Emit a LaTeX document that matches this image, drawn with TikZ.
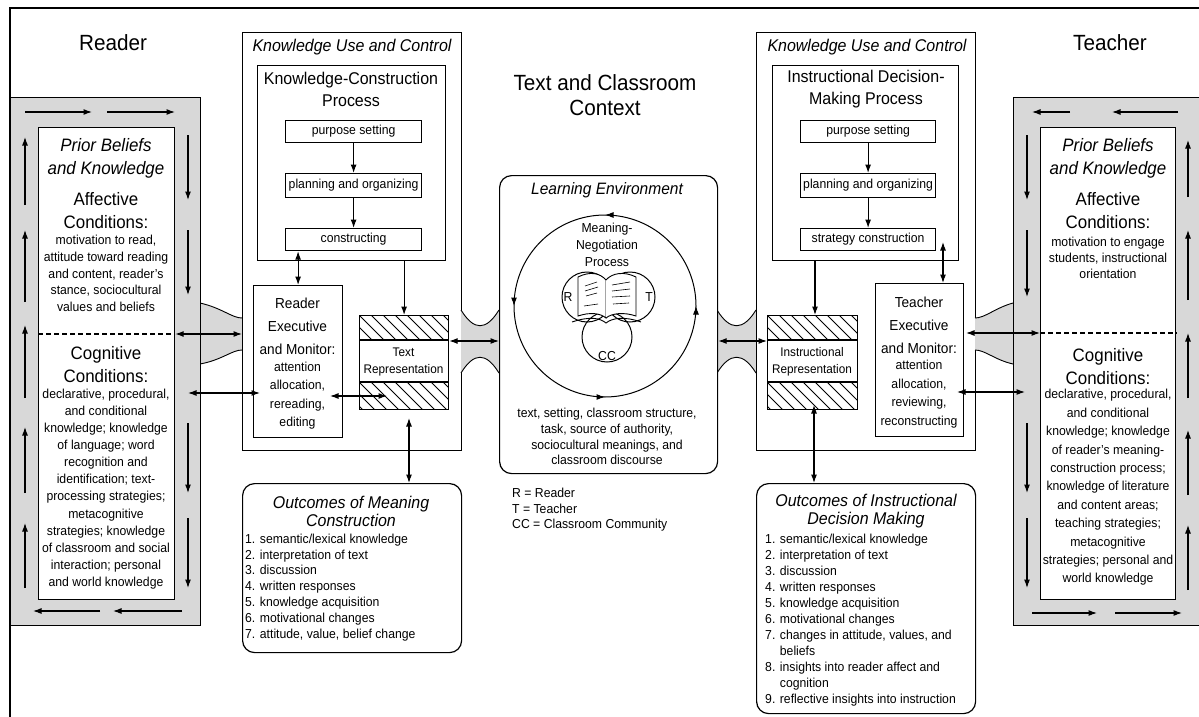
\documentclass[tikz,border=0pt]{standalone}
\usepackage{fontspec}
\setmainfont{Liberation Sans}[FakeStretch=0.94]
\usetikzlibrary{arrows.meta,decorations.markings}
\definecolor{gfill}{RGB}{216,216,216}
\newcommand\hatchbox[4]{%
  \begin{scope}
    \clip (#1,#2) rectangle (#3,#4);
    \foreach \d in {-36,-24,...,96} \draw[line width=0.9pt] ({#1+\d},#2) -- ++(40,40);
  \end{scope}}
\tikzset{
  box/.style={draw, line width=1.2pt, inner sep=0pt, anchor=north west},
  ar/.style={-{Latex[length=8.5pt,width=6pt]}, line width=1.1pt},
  dar/.style={{Latex[length=8.5pt,width=6pt]}-{Latex[length=8.5pt,width=6pt]}, line width=1.1pt},
  txt/.style={inner sep=0pt, align=center},
  big/.style={txt, font=\fontsize{22}{25}\selectfont},
  hd/.style={txt, font=\fontsize{18}{23}\selectfont},
  hdi/.style={txt, font=\fontsize{18}{23}\selectfont\itshape},
  sub/.style={txt, font=\fontsize{17}{22}\selectfont},
  subi/.style={txt, font=\fontsize{17}{18}\selectfont\itshape},
  ex/.style={txt, font=\fontsize{14.5}{23}\selectfont},
  sm/.style={txt, font=\fontsize{13}{16.5}\selectfont},
  funnel/.style={fill=gfill},
  fline/.style={line width=0.9pt},
  divider/.style={line width=1.1pt, dash pattern=on 5pt off 3pt},
}
\begin{document}
\begin{tikzpicture}[x=1pt,y=-1pt]
\useasboundingbox (0,0) rectangle (1199,717);
\fill[white] (0,0) rectangle (1199,717);
\coordinate (ya) at (0,334);
\coordinate (ym) at (0,341);
\coordinate (yc) at (0,333);

% ================= frame
\draw[line width=1.8pt] (1199,8) -- (10,8) -- (10,717);

% ================= READER
\node[big] (rtitle) at (113,43) {Reader};
\fill[funnel] (200,303) .. controls (222,308) and (232,318) .. (242,318) -- (242,350) .. controls (232,350) and (222,360) .. (200,364) -- cycle;
\draw[fline] (200,303) .. controls (222,308) and (232,318) .. (242,318);
\draw[fline] (200,364) .. controls (222,360) and (232,350) .. (242,350);
\node[box, fill=gfill, minimum width=190pt, minimum height=528pt] (rgray) at (10,97) {};
\node[box, fill=white, minimum width=136pt, minimum height=472pt] (rin) at (38,127) {};
\node[hdi] (rpb) at (106,158.5) {Prior Beliefs\\and Knowledge};
\node[hd] (raff) at (106,211) {Affective\\Conditions:};
\node[txt, font=\fontsize{13}{16.75}\selectfont] (raffd) at (106,273.5) {motivation to read,\\attitude toward reading\\and content, reader's\\stance, sociocultural\\values and beliefs};
\draw[divider] (rin.west |- ya) -- (rin.east |- ya);
\node[hd] (rcog) at (106,365) {Cognitive\\Conditions:};
\node[txt, font=\fontsize{13}{17.1}\selectfont] (rcogd) at (106,489) {declarative, procedural,\\and conditional\\knowledge; knowledge\\of language; word\\recognition and\\identification; text-\\processing strategies;\\metacognitive\\strategies; knowledge\\of classroom and social\\interaction; personal\\and world knowledge};
\foreach \a/\b in {25/92,107/175} \draw[ar] (\a,112) -- (\b,112);
\foreach \a/\b in {135/200,230/295,423/493,518/588} \draw[ar] (188,\a) -- (188,\b);
\foreach \a/\b in {205/137,302/230,398/325,493/427,588/523} \draw[ar] (25,\a) -- (25,\b);
\foreach \a/\b in {100/33,182/113} \draw[ar] (\a,611) -- (\b,611);

% ================= KNOWLEDGE USE (left)
\node[box, minimum width=219pt, minimum height=418pt] (kucL) at (242,32) {};
\node[subi] (kucLt) at (352,47) {Knowledge Use and Control};
\node[box, minimum width=188pt, minimum height=195pt] (kcp) at (257,65) {};
\node[sub] (kcpt) at (351,89) {Knowledge-Construction\\Process};
\node[box, sm, minimum width=136pt, minimum height=22pt] (ps1) at (285,120) {purpose setting};
\node[box, sm, minimum width=136pt, minimum height=24pt] (po1) at (285,173) {planning and organizing};
\node[box, sm, minimum width=136pt, minimum height=22pt] (co1) at (285,228) {constructing};
\draw[ar] (ps1.south) -- (po1.north);
\draw[ar] (po1.south) -- (co1.north);
\node[box, minimum width=89pt, minimum height=152pt] (rex) at (253,285) {};
\node[ex] (rext) at (297.5,326.5) {Reader\\Executive\\and Monitor:};
\node[txt, font=\fontsize{13}{18.3}\selectfont] (rexd) at (297.5,395.5) {attention\\allocation,\\rereading,\\editing};
\draw[dar] (co1.south -| rex.north) -- (rex.north);
\hatchbox{359}{315}{448}{340}
\hatchbox{359}{382}{448}{409}
\node[box, minimum width=89pt, minimum height=94pt] (trep) at (359,315) {};
\draw[line width=1.2pt] (359,340) -- (448,340) (359,382) -- (448,382);
\node[txt, font=\fontsize{12.5}{17}\selectfont, fill=white] (trept) at (403.5,361.5) {Text\\Representation};
\draw[ar] (kcp.south -| trep.north) -- (trep.north);
\coordinate (rx1) at (330,396);
\coordinate (rx2) at (387,396);
\draw[dar] (rx1) -- (rx2);
\coordinate (rb1) at (188,393);
\coordinate (rb2) at (260,393);
\draw[dar] (rb1) -- (rb2);
\draw[dar] (rin.east |- ya) -- (kucL.west |- ya);
\node[box, rounded corners=12pt, minimum width=219pt, minimum height=169pt] (om) at (242,483) {};
\coordinate (c1) at (409,418);
\draw[dar] (c1) -- (c1 |- om.north);
\node[subi] (omt) at (351,511) {Outcomes of Meaning\\Construction};
\node[txt, align=left, anchor=west, font=\fontsize{13}{15.9}\selectfont] (oml) at (245,587.5) {1. semantic/lexical knowledge\\2. interpretation of text\\3. discussion\\4. written responses\\5. knowledge acquisition\\6. motivational changes\\7. attitude, value, belief change};

% ================= CENTER
\node[big] (ctitle) at (605,95) {Text and Classroom\\Context};
\fill[funnel] (461,310) .. controls (474,331) and (486,331) .. (499,310) -- (499,373) .. controls (486,352) and (474,352) .. (461,373) -- cycle;
\draw[fline] (461,310) .. controls (474,331) and (486,331) .. (499,310);
\draw[fline] (461,373) .. controls (474,352) and (486,352) .. (499,373);
\fill[funnel] (717,310) .. controls (730,331) and (743,331) .. (756,310) -- (756,373) .. controls (743,352) and (730,352) .. (717,373) -- cycle;
\draw[fline] (717,310) .. controls (730,331) and (743,331) .. (756,310);
\draw[fline] (717,373) .. controls (730,352) and (743,352) .. (756,373);
\node[box, rounded corners=12pt, fill=white, minimum width=218pt, minimum height=298pt] (le) at (499,175) {};
\node[txt, font=\fontsize{16.5}{18}\selectfont\itshape] (let) at (607,190) {Learning Environment};
\draw[line width=1pt, postaction=decorate, decoration={markings,
   mark=at position 0.125 with {\arrow{Latex[length=8.5pt,width=6pt]}},
   mark=at position 0.375 with {\arrow{Latex[length=8.5pt,width=6pt]}},
   mark=at position 0.625 with {\arrow{Latex[length=8.5pt,width=6pt]}},
   mark=at position 0.875 with {\arrow{Latex[length=8.5pt,width=6pt]}}}]
   (605,306) ++(45:91) arc[start angle=45, end angle=-315, radius=91];
\node[txt, font=\fontsize{13}{17}\selectfont] (mnp) at (607,245) {Meaning-\\Negotiation\\Process};
\draw[line width=1pt] (587,297) circle[radius=25];
\draw[line width=1pt] (630,297) circle[radius=25];
\draw[line width=1pt] (607,337) circle[radius=25];
\draw[line width=0.9pt, fill=white] (578,277) .. controls (590,271) and (600,273) .. (606,280) -- (606,318) .. controls (600,313) and (590,312) .. (578,316) -- cycle;
\draw[line width=0.9pt, fill=white] (606,280) .. controls (612,273) and (624,271) .. (636,277) -- (636,316) .. controls (624,312) and (612,313) .. (606,318);
\draw[line width=0.6pt] (585,286) -- (597,282) (585,291) -- (598,287) (586,296) -- (597,293) (584,306) -- (598,304);
\draw[line width=0.6pt] (612,285) -- (630,282) (612,291) -- (630,289) (612,297) -- (630,296) (613,304) -- (629,303);
\draw[line width=0.9pt] (572,322) .. controls (590,316) and (600,318) .. (606,323) .. controls (612,318) and (624,316) .. (641,322);
\node[txt, font=\fontsize{13}{15}\selectfont] (lR) at (568,297) {R};
\node[txt, font=\fontsize{13}{15}\selectfont] (lT) at (649,297) {T};
\node[txt, font=\fontsize{13}{15}\selectfont] (lCC) at (607,356) {CC};
\node[txt, font=\fontsize{13}{15.7}\selectfont] (led) at (607,436.5) {text, setting, classroom structure,\\task, source of authority,\\sociocultural meanings, and\\classroom discourse};
\node[txt, align=left, anchor=north west, font=\fontsize{13}{15.5}\selectfont] (legend) at (512,488) {R = Reader\\T = Teacher\\CC = Classroom Community};

% ================= KNOWLEDGE USE (right)
\node[box, minimum width=219pt, minimum height=418pt] (kucR) at (756,32) {};
\node[subi] (kucRt) at (867,47) {Knowledge Use and Control};
\node[box, minimum width=186pt, minimum height=195pt] (idm) at (772,65) {};
\node[sub] (idmt) at (866,89) {Instructional Decision-\\Making Process};
\node[box, sm, minimum width=135pt, minimum height=22pt] (ps2) at (800,120) {purpose setting};
\node[box, sm, minimum width=135pt, minimum height=24pt] (po2) at (800,173) {planning and organizing};
\node[box, sm, minimum width=135pt, minimum height=22pt] (sc2) at (800,228) {strategy construction};
\draw[ar] (ps2.south) -- (po2.north);
\draw[ar] (po2.south) -- (sc2.north);
\hatchbox{767}{315}{857}{340}
\hatchbox{767}{382}{857}{409}
\node[box, minimum width=90pt, minimum height=94pt] (irep) at (767,315) {};
\draw[line width=1.2pt] (767,340) -- (857,340) (767,382) -- (857,382);
\node[txt, font=\fontsize{12.5}{17}\selectfont, fill=white] (irept) at (812,362) {Instructional\\Representation};
\coordinate (c2) at (815,260);
\draw[ar] (c2) -- (c2 |- irep.north);
\node[box, minimum width=88pt, minimum height=153pt] (tex) at (875,283) {};
\node[ex] (text) at (919,325) {Teacher\\Executive\\and Monitor:};
\node[txt, font=\fontsize{13}{18.7}\selectfont] (texd) at (919,394) {attention\\allocation,\\reviewing,\\reconstructing};
\coordinate (c3) at (943,242);
\draw[dar] (c3) -- (c3 |- tex.north);
\node[box, rounded corners=12pt, minimum width=219pt, minimum height=230pt] (oi) at (756,483) {};
\coordinate (c4) at (814,405);
\draw[dar] (c4) -- (c4 |- oi.north);
\node[subi] (oit) at (866,511) {Outcomes of Instructional\\Decision Making};
\node[txt, align=left, anchor=west, font=\fontsize{13}{16}\selectfont] (oil) at (765,620) {1. semantic/lexical knowledge\\2. interpretation of text\\3. discussion\\4. written responses\\5. knowledge acquisition\\6. motivational changes\\7. changes in attitude, values, and\\\phantom{7. }beliefs\\8. insights into reader affect and\\\phantom{8. }cognition\\9. reflective insights into instruction};
\draw[dar] (trep.east |- ym) -- (le.west |- ym);
\draw[dar] (le.east |- ym) -- (irep.west |- ym);

% ================= TEACHER
\node[big] (ttitle) at (1110,43) {Teacher};
\fill[funnel] (975,318) .. controls (985,318) and (995,308) .. (1013,303) -- (1013,364) .. controls (995,360) and (985,350) .. (975,350) -- cycle;
\draw[fline] (975,318) .. controls (985,318) and (995,308) .. (1013,303);
\draw[fline] (975,350) .. controls (985,350) and (995,360) .. (1013,364);
\node[box, fill=gfill, minimum width=200pt, minimum height=528pt] (tgray) at (1013,97) {};
\node[box, fill=white, minimum width=135pt, minimum height=472pt] (tin) at (1040,127) {};
\node[hdi] (tpb) at (1108,158.5) {Prior Beliefs\\and Knowledge};
\node[hd] (taff) at (1108,211) {Affective\\Conditions:};
\node[txt, font=\fontsize{13}{16}\selectfont] (taffd) at (1108,258) {motivation to engage\\students, instructional\\orientation};
\draw[divider] (tin.west |- yc) -- (tin.east |- yc);
\node[hd] (tcog) at (1108,366.5) {Cognitive\\Conditions:};
\node[txt, font=\fontsize{13}{18.4}\selectfont] (tcogd) at (1108,487.5) {declarative, procedural,\\and conditional\\knowledge; knowledge\\of reader's meaning-\\construction process;\\knowledge of literature\\and content areas;\\teaching strategies;\\metacognitive\\strategies; personal and\\world knowledge};
\draw[ar] (1070,112) -- (1032,112);
\draw[ar] (1178,112) -- (1112,112);
\foreach \a/\b in {135/200,230/297,423/493,518/588} \draw[ar] (1027,\a) -- (1027,\b);
\foreach \a/\b in {197/140,300/230,398/333,495/430,590/525} \draw[ar] (1188,\a) -- (1188,\b);
\foreach \a/\b in {1032/1097,1115/1182} \draw[ar] (\a,613) -- (\b,613);
\coordinate (tx1) at (966,333);
\draw[dar] (tx1) -- (tin.west |- yc);
\coordinate (tx2) at (957,392);
\coordinate (tx3) at (1025,392);
\draw[dar] (tx2) -- (tx3);
\end{tikzpicture}
\end{document}
